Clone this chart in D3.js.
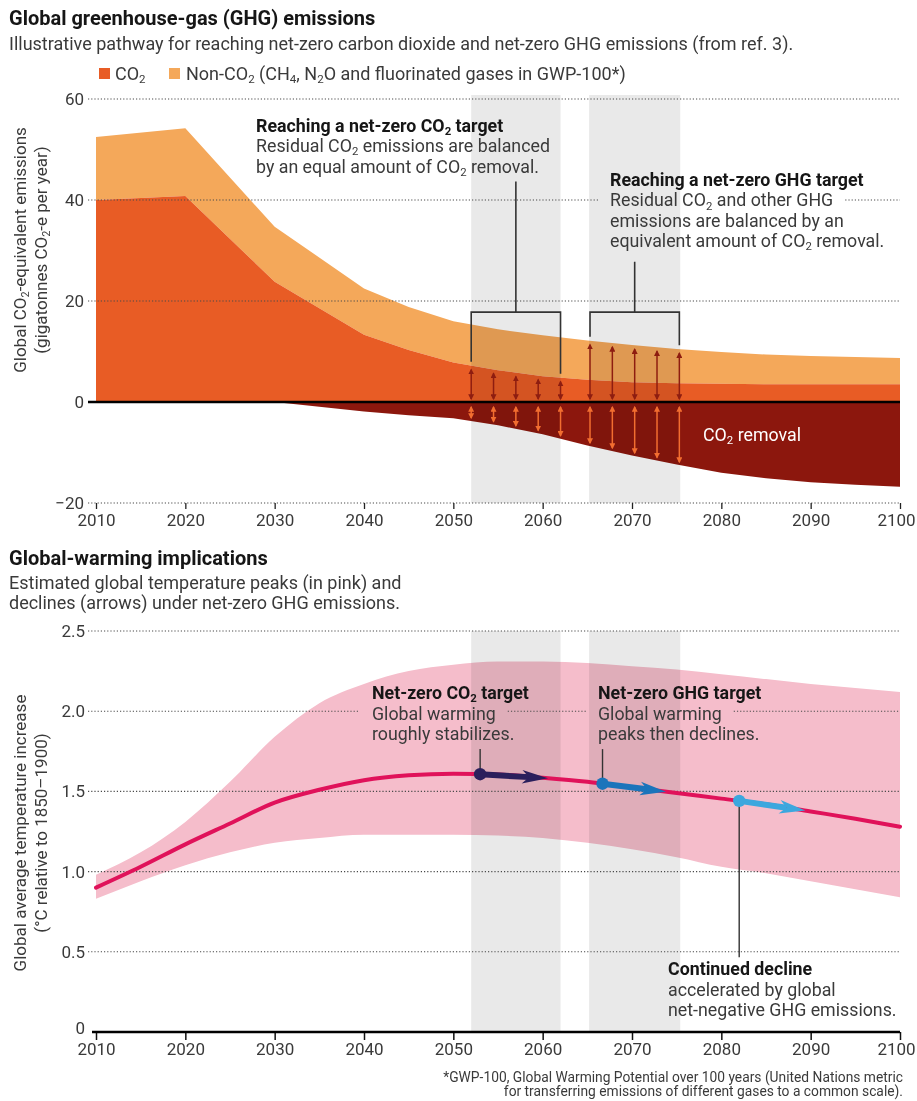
<!DOCTYPE html>
<html><head><meta charset="utf-8">
<script src="https://cdn.jsdelivr.net/npm/d3@7"></script>
<style>
body{margin:0;background:#fff;}
svg{display:block;font-family:Roboto,"Noto Sans",sans-serif;}
</style></head><body>
<svg id="chart" width="917" height="1101"></svg>
<script>
// ---------------- DATA ----------------
const emisYears     = [2010,2020,2030,2040,2045,2050,2055,2060,2065,2070,2075,2080,2085,2090,2095,2100];
const co2Values     = [40.0,40.8,23.8,13.3,10.3, 7.8, 6.3, 5.1, 4.4, 3.9, 3.7, 3.6, 3.5, 3.5, 3.5, 3.5];
const nonCo2Values  = [12.5,13.4,10.9, 9.2, 8.5, 8.2, 8.1, 8.1, 7.8, 7.4, 6.8, 6.3, 5.9, 5.6, 5.4, 5.2];
const removalValues = [ 0.0, 0.0, 0.0,-1.9,-2.6,-3.2,-4.6,-6.4,-8.6,-10.6,-12.4,-14.0,-15.1,-15.9,-16.4,-16.8];

const tempYears  = [2010,2015,2020,2025,2030,2035,2040,2045,2050,2055,2060,2065,2070,2075,2080,2085,2090,2095,2100];
const tempMedian = [0.90,1.03,1.17,1.30,1.43,1.51,1.57,1.60,1.61,1.605,1.585,1.56,1.525,1.49,1.455,1.42,1.375,1.33,1.28];
const tempHigh   = [0.98,1.12,1.31,1.56,1.84,2.05,2.17,2.25,2.29,2.31,2.31,2.30,2.28,2.26,2.23,2.20,2.17,2.145,2.12];
const tempLow    = [0.83,0.94,1.04,1.12,1.18,1.21,1.23,1.23,1.23,1.225,1.21,1.18,1.14,1.09,1.03,0.99,0.94,0.89,0.84];

const targetBands = [[2052,2062],[2065.2,2075.4]];
const co2ArrowYears = [2052,2054.5,2057,2059.5,2062];
const ghgArrowYears = [2065.3,2067.8,2070.3,2072.8,2075.3];

const warmArrowStarts = [2053,2066.7,2082];
const warmArrowEnds   = [2060.6,2073.8,2089.4];

const yearTicks = [2010,2020,2030,2040,2050,2060,2070,2080,2090,2100];
const emisTicks = [-20,0,20,40,60];
const emisTickLabels = ["\u221220","0","20","40","60"];
const tempTicks = [0,0.5,1.0,1.5,2.0,2.5];
const tempTickLabels = ["0","0.5","1.0","1.5","2.0","2.5"];

const legendLabels = ["CO_2","Non-CO_2 (CH_4, N_2O and fluorinated gases in GWP-100*)"];
const co2Note = ["Reaching a net-zero CO_2 target","Residual CO_2 emissions are balanced","by an equal amount of CO_2 removal."];
const ghgNote = ["Reaching a net-zero GHG target","Residual CO_2 and other GHG","emissions are balanced by an","equivalent amount of CO_2 removal."];
const warmNotes = [
  ["Net-zero CO_2 target","Global warming","roughly stabilizes."],
  ["Net-zero GHG target","Global warming","peaks then declines."],
  ["Continued decline","accelerated by global","net-negative GHG emissions."]
];
const bottomSubtitle = ["Estimated global temperature peaks (in pink) and","declines (arrows) under net-zero GHG emissions."];
const footnote = ["*GWP-100, Global Warming Potential over 100 years (United Nations metric",
                  "for transferring emissions of different gases to a common scale)."];

// ---------------- STYLE ----------------
const C = {co2:"#e85c25", non:"#f4a85a", rem:"#8c170d", band:"#e9e9e9",
           pink:"#f5bdcb", med:"#e0125a", txt:"#3a3a3a", dark:"#161616",
           upArrow:"#8e1d10", downArrow:"#f26e30",
           warm:["#2b1f5c","#1a74bb","#3ca7de"]};
const FS = {title:20, sub:18, note:17.8, tick:17, axis:17, foot:13.8};

const svg = d3.select("#chart");
const x  = d3.scaleLinear().domain([2010,2100]).range([96,900]);
const yE = d3.scaleLinear().domain([-20,60]).range([503,99]);
const yT = d3.scaleLinear().domain([0,2.5]).range([1032,631]);

function interp(xs, ys, v){
  const i = Math.min(Math.max(d3.bisectRight(xs, v),1), xs.length-1);
  const t = (v - xs[i-1])/(xs[i]-xs[i-1]);
  return ys[i-1] + t*(ys[i]-ys[i-1]);
}

// fill a text (or a line of a multi-line text) with tspans, handling _n subscripts
function fillRich(t, str, fs, lineAttrs){
  const parts = str.split(/(_[0-9])/).filter(p=>p.length);
  let shifted = false, first = true; const spans = [];
  parts.forEach(p=>{
    let ts;
    if (p[0]==="_"){ ts=t.append("tspan").attr("dy",0.18*fs).attr("font-size",0.64*fs).text(p.slice(1)); shifted=true; }
    else { ts=t.append("tspan").text(p); if(shifted){ts.attr("dy",-0.18*fs); shifted=false;} }
    if (lineAttrs){ Object.entries(lineAttrs.all||{}).forEach(([k,v])=>ts.attr(k,v));
      if(first){ ts.attr("x",lineAttrs.x).attr("y",lineAttrs.y); } }
    first=false; spans.push(ts);
  });
  return spans;
}
function addText(parent, str, xp, yp, fs, opts={}){
  const t = parent.append("text").attr("x",xp).attr("y",yp).attr("font-size",fs)
    .attr("fill", opts.fill || C.txt).attr("font-weight", opts.weight || 400)
    .attr("text-anchor", opts.anchor || "start");
  if (opts.transform) t.attr("transform", opts.transform);
  fillRich(t, str, fs);
  return t;
}
// multi-line block as one text element; returns line extents
function addBlock(parent, lines, xp, y0, lh, fs, opts={}){
  const t = parent.append("text").attr("font-size",fs).attr("fill",opts.fill||C.txt)
    .attr("text-anchor",opts.anchor||"start");
  const ext=[];
  lines.forEach((s,i)=>{
    const bold = opts.boldFirst && i===0;
    const spans = fillRich(t, s, fs, {x:xp, y:y0+i*lh,
      all: bold?{"font-weight":700,"fill":C.dark}:{"font-weight":400}});
    ext.push({spans, x:xp, y:y0+i*lh});
  });
  ext.forEach(e=>{ e.w = d3.sum(e.spans, s=>s.node().getComputedTextLength()); e.top=e.y-0.72*fs; e.bot=e.y+0.22*fs; });
  return ext;
}

function gridLine(g, yPix, x0, x1, exts){
  const gaps=[];
  exts.forEach(e=>{ if(yPix>=e.top && yPix<=e.bot) gaps.push([e.x-12,e.x+e.w+12]); });
  gaps.sort((a,b)=>a[0]-b[0]);
  let cur=x0; const segs=[];
  gaps.forEach(([a,b])=>{ if(a>cur) segs.push([cur,a]); cur=Math.max(cur,b); });
  if(cur<x1) segs.push([cur,x1]);
  segs.forEach(([a,b])=>g.append("line").attr("x1",a).attr("x2",b).attr("y1",yPix).attr("y2",yPix)
     .attr("stroke","#4a4a4a").attr("stroke-width",1.1).attr("stroke-dasharray","1.2,2"));
}

// markers
const defs = svg.append("defs");
[["up",C.upArrow],["down",C.downArrow]].forEach(([id,col])=>{
  defs.append("marker").attr("id","ah-"+id).attr("viewBox","0 0 10 10").attr("refX",8).attr("refY",5)
    .attr("markerWidth",6).attr("markerHeight",6).attr("markerUnits","userSpaceOnUse")
    .attr("orient","auto-start-reverse").append("path").attr("d","M0,0L10,5L0,10z").attr("fill",col);
});

// ---------------- TITLES ----------------
addText(svg,"Global greenhouse-gas (GHG) emissions",9,25,FS.title,{weight:700,fill:C.dark});
addText(svg,"Illustrative pathway for reaching net-zero carbon dioxide and net-zero GHG emissions (from ref. 3).",9,50,FS.sub);
// legend
const leg = svg.append("g");
leg.append("rect").attr("x",99).attr("y",68).attr("width",11).attr("height",11).attr("fill",C.co2);
addText(leg,legendLabels[0],115,80,FS.sub);
leg.append("rect").attr("x",169).attr("y",68).attr("width",11).attr("height",11).attr("fill",C.non);
addText(leg,legendLabels[1],186,80,FS.sub);

// ---------------- TOP CHART ----------------
const topG = svg.append("g");
const lArea = topG.append("g"), lBand = topG.append("g"), lGrid = topG.append("g"),
      lArr = topG.append("g"), lNote = topG.append("g");
const emis = emisYears.map((yr,i)=>({yr, co2:co2Values[i], tot:co2Values[i]+nonCo2Values[i], rem:removalValues[i]}));

lArea.append("path").datum(emis).attr("fill",C.non)
  .attr("d",d3.area().x(d=>x(d.yr)).y0(d=>yE(d.co2)).y1(d=>yE(d.tot)));
lArea.append("path").datum(emis).attr("fill",C.co2)
  .attr("d",d3.area().x(d=>x(d.yr)).y0(yE(0)).y1(d=>yE(d.co2)));
lArea.append("path").datum(emis).attr("fill",C.rem)
  .attr("d",d3.area().x(d=>x(d.yr)).y0(yE(0)).y1(d=>yE(d.rem)));

targetBands.forEach(([a,b])=>{
  lBand.append("rect").attr("x",x(a)).attr("width",x(b)-x(a)).attr("y",95).attr("height",yE(-20)-95)
    .attr("fill",C.band).style("mix-blend-mode","multiply");
});

// arrows
const totVals = emis.map(d=>d.tot);
function emisArrows(years, topVals){
  years.forEach(yr=>{
    const ty = interp(emisYears, topVals, yr);
    lArr.append("line").attr("x1",x(yr)).attr("x2",x(yr)).attr("y1",yE(0)-3).attr("y2",yE(ty)+4)
      .attr("stroke",C.upArrow).attr("stroke-width",1.5)
      .attr("marker-start","url(#ah-up)").attr("marker-end","url(#ah-up)");
    const ry = interp(emisYears, removalValues, yr);
    lArr.append("line").attr("x1",x(yr)).attr("x2",x(yr)).attr("y1",yE(0)+5).attr("y2",yE(ry)-3)
      .attr("stroke",C.downArrow).attr("stroke-width",1.5)
      .attr("marker-start","url(#ah-down)").attr("marker-end","url(#ah-down)");
  });
}
emisArrows(co2ArrowYears, co2Values);
emisArrows(ghgArrowYears, totVals);

// notes
const notes1 = addBlock(lNote, co2Note, 256, 131.5, 20.5, FS.note, {boldFirst:true});
const notes2 = addBlock(lNote, ghgNote, 610, 186, 20.3, FS.note, {boldFirst:true});
addText(lNote,"CO_2 removal",703,441,FS.note,{fill:"#fff"});

// brackets
function bracket(years, topVals, stemTop){
  const a=years[0], b=years[years.length-1], yb=yE(17.8);
  const la = yE(interp(emisYears, topVals, a))-4, lb = yE(interp(emisYears, topVals, b))-4;
  const xm = (x(a)+x(b))/2;
  lArr.append("path").attr("fill","none").attr("stroke","#333").attr("stroke-width",1.6)
    .attr("d",`M${x(a)},${la}V${yb}H${x(b)}V${lb}M${xm},${yb}V${stemTop}`);
}
bracket(co2ArrowYears, co2Values, notes1[notes1.length-1].bot+5);
bracket(ghgArrowYears, totVals, notes2[notes2.length-1].bot+11);

// grid
const noteExt = notes1.concat(notes2);
emisTicks.filter(v=>v!==0).forEach(v=>gridLine(lGrid, yE(v), 88, 900, noteExt));
lGrid.append("line").attr("x1",88).attr("x2",900).attr("y1",yE(0)).attr("y2",yE(0))
  .attr("stroke","#000").attr("stroke-width",2.6);

// axes
const yAxisE = topG.append("g").attr("transform","translate(88,0)")
  .call(d3.axisLeft(yE).tickValues(emisTicks).tickSize(0).tickPadding(4)
        .tickFormat(d=>emisTickLabels[emisTicks.indexOf(d)]));
yAxisE.select(".domain").remove();
yAxisE.selectAll("text").attr("font-size",FS.tick).attr("fill",C.txt).attr("font-family","Roboto");

const xAxisE = topG.append("g").attr("transform",`translate(0,${yE(-20)})`)
  .call(d3.axisBottom(x).tickValues(yearTicks).tickSize(6).tickPadding(5).tickFormat(d3.format("d")));
xAxisE.select(".domain").remove();
xAxisE.selectAll("line").attr("stroke","#222").attr("stroke-width",1.3);
xAxisE.selectAll("text").attr("font-size",FS.tick).attr("fill",C.txt).attr("font-family","Roboto")
  .attr("dx",d=>d===2100?-4:0);

addText(svg,"Global CO_2-equivalent emissions",0,0,FS.axis,{anchor:"middle",transform:"translate(26,250) rotate(-90)"});
addText(svg,"(gigatonnes CO_2-e per year)",0,0,FS.axis,{anchor:"middle",transform:"translate(47,250) rotate(-90)"});

// ---------------- BOTTOM CHART ----------------
addText(svg,"Global-warming implications",9,565,FS.title,{weight:700,fill:C.dark});
addBlock(svg, bottomSubtitle, 9, 589, 20, FS.sub);

const botG = svg.append("g");
const bArea = botG.append("g"), bBand = botG.append("g"), bGrid = botG.append("g"),
      bLine = botG.append("g"), bArr = botG.append("g"), bNote = botG.append("g");
const temp = tempYears.map((yr,i)=>({yr, m:tempMedian[i], lo:tempLow[i], hi:tempHigh[i]}));

bArea.append("path").datum(temp).attr("fill",C.pink)
  .attr("d",d3.area().curve(d3.curveMonotoneX).x(d=>x(d.yr)).y0(d=>yT(d.lo)).y1(d=>yT(d.hi)));
targetBands.forEach(([a,b])=>{
  bBand.append("rect").attr("x",x(a)).attr("width",x(b)-x(a)).attr("y",yT(2.5)).attr("height",yT(0)-yT(2.5))
    .attr("fill",C.band).style("mix-blend-mode","multiply");
});
bLine.append("path").datum(temp).attr("fill","none").attr("stroke",C.med).attr("stroke-width",4)
  .attr("stroke-linecap","round")
  .attr("d",d3.line().curve(d3.curveMonotoneX).x(d=>x(d.yr)).y(d=>yT(d.m)));

// warming notes
const notePos = [[372,699],[598,699],[668,975]];
const wNotes = warmNotes.map((lines,k)=>addBlock(bNote, lines, notePos[k][0], notePos[k][1], 20.6, FS.note, {boldFirst:true}));

// leaders + arrows
warmArrowStarts.forEach((s,k)=>{
  const e = warmArrowEnds[k];
  const p0=[x(s), yT(interp(tempYears,tempMedian,s))], p1=[x(e), yT(interp(tempYears,tempMedian,e))];
  const lines = wNotes[k];
  const yEnd = k<2 ? lines[lines.length-1].bot+5 : lines[0].top-5;
  bArr.append("line").attr("x1",p0[0]).attr("x2",p0[0]).attr("y1",p0[1]).attr("y2",yEnd)
    .attr("stroke","#333").attr("stroke-width",1.4);
  const dx=p1[0]-p0[0], dy=p1[1]-p0[1], L=Math.hypot(dx,dy), ux=dx/L, uy=dy/L;
  const hl=26, hw=6.8, notch=7;
  const bx=p1[0]-ux*hl, by=p1[1]-uy*hl;
  const nx=bx+ux*notch, ny=by+uy*notch;
  bArr.append("line").attr("x1",p0[0]).attr("y1",p0[1]).attr("x2",nx).attr("y2",ny)
    .attr("stroke",C.warm[k]).attr("stroke-width",6);
  bArr.append("path").attr("fill",C.warm[k])
    .attr("d",`M${p1[0]},${p1[1]}L${bx-uy*hw},${by+ux*hw}L${nx},${ny}L${bx+uy*hw},${by-ux*hw}Z`);
  bArr.append("circle").attr("cx",p0[0]).attr("cy",p0[1]).attr("r",6.2).attr("fill",C.warm[k]);
});

tempTicks.filter(v=>v!==0).forEach(v=>gridLine(bGrid, yT(v), 88, 900, wNotes.flat()));

const yAxisT = botG.append("g").attr("transform","translate(88,0)")
  .call(d3.axisLeft(yT).tickValues(tempTicks).tickSize(0).tickPadding(3)
        .tickFormat(d=>tempTickLabels[tempTicks.indexOf(d)]));
yAxisT.select(".domain").remove();
yAxisT.selectAll("text").attr("font-size",FS.tick).attr("fill",C.txt).attr("font-family","Roboto")
  .attr("dy",d=>d===0?"0.1em":"0.32em");

const xAxisT = botG.append("g").attr("transform",`translate(0,${yT(0)})`)
  .call(d3.axisBottom(x).tickValues(yearTicks).tickSize(8).tickPadding(3).tickFormat(d3.format("d")));
xAxisT.select(".domain").remove();
xAxisT.selectAll("line").attr("stroke","#111").attr("stroke-width",1.5);
xAxisT.selectAll("text").attr("font-size",FS.tick).attr("fill",C.txt).attr("font-family","Roboto")
  .attr("dx",d=>d===2100?-4:0);
botG.append("line").attr("x1",92).attr("x2",900).attr("y1",yT(0)).attr("y2",yT(0))
  .attr("stroke","#000").attr("stroke-width",2.6);

addText(svg,"Global average temperature increase",0,0,FS.axis,{anchor:"middle",transform:"translate(26,833) rotate(-90)"});
addText(svg,"(\u00B0C relative to 1850\u20131900)",0,0,FS.axis,{anchor:"middle",transform:"translate(47,833) rotate(-90)"});

addBlock(svg, footnote, 903, 1082, 13.6, FS.foot, {anchor:"end"});
</script>
</body></html>
